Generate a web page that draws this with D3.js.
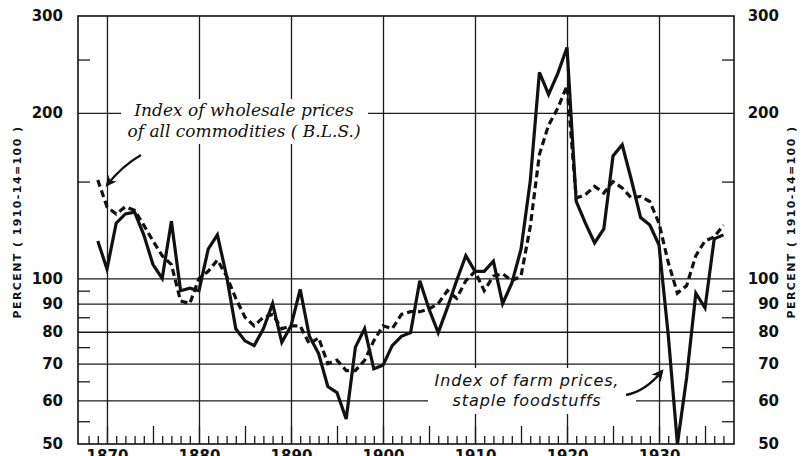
<!DOCTYPE html>
<html>
<head>
<meta charset="utf-8">
<script src="https://cdn.jsdelivr.net/npm/d3@7"></script>
<style>
  body { margin: 0; background: #fff; }
  svg { display: block; }
  .num-label text { font-family: 'DejaVu Sans', sans-serif; font-size: 15px; font-weight: bold; fill: #111; }
  .axis-title { font-family: 'DejaVu Sans', sans-serif; font-size: 11px; font-weight: bold; letter-spacing: 1.4px; fill: #111; }
  .note-serif { font-family: 'DejaVu Serif', serif; font-style: italic; font-size: 17px; fill: #111; }
  .note-sans { font-family: 'DejaVu Sans', sans-serif; font-style: oblique; font-size: 16px; letter-spacing: 0.9px; fill: #111; }
  .grid line { stroke: #1a1a1a; stroke-width: 1.3; }
</style>
</head>
<body>
<div id="chart"></div>
<script>
// annual index numbers, 1910-14 = 100
const years = d3.range(1869, 1938);

const farmPrices = [
    117, 104, 126, 131, 132, 120, 106, 100, 127, 95,
    96, 95, 113, 120, 101, 81, 77, 75.5, 81, 90,
    76.5, 82, 95.5, 78.5, 73, 63.6, 62, 55.5, 75, 81,
    68.5, 69.5, 75.5, 78.5, 79.7, 99, 88, 79.7, 88.5, 99,
    110, 103, 103, 107.5, 90, 98, 113, 150, 237, 216,
    236, 263, 138, 126, 116, 123, 167, 175, 151, 129,
    125, 115, 79, 50, 66, 94, 88.4, 118, 120
];

const wholesalePrices = [
    151, 135, 131, 135, 133, 125, 117, 110, 106, 91,
    90, 100, 103, 108, 101, 92, 85, 82, 85, 86,
    81, 82, 82, 76, 78, 70, 71, 68, 68, 71,
    77, 82, 81, 86, 87, 87, 88, 90, 95, 92,
    99, 103, 95, 101, 102, 99, 101, 124, 168, 190,
    204, 224, 140, 142, 147, 143, 150, 146, 140, 141,
    138, 126, 107, 94, 97, 110, 117, 119, 125
];

const yLabels = [300, 200, 100, 90, 80, 70, 60, 50];
const yGrid = [200, 100, 90, 80, 70, 60];
const yMinor = [250, 150, 95, 85, 75, 65, 55];
const decades = [1870, 1880, 1890, 1900, 1910, 1920, 1930];
const yearTicks = d3.range(1868, 1938);

const wholesaleNote = ['Index of wholesale prices', 'of all commodities ( B.L.S.)'];
const farmNote = ['Index of farm prices,', 'staple foodstuffs'];
const axisTitle = 'PERCENT ( 1910-14=100 )';

function PriceChart() {
    this.init();
}

PriceChart.prototype.init = function() {
    let vis = this;

    vis.svgWidth = 805;
    vis.svgHeight = 456;
    vis.left = 78;
    vis.right = 734;
    vis.top = 16;
    vis.bottom = 444;

    vis.svg = d3.select('#chart').append('svg')
        .attr('width', vis.svgWidth)
        .attr('height', vis.svgHeight);

    vis.x = d3.scaleLinear()
        .domain([1866.85, 1938.15])
        .range([vis.left, vis.right]);

    vis.y = d3.scaleLog()
        .domain([50, 300])
        .range([vis.bottom, vis.top]);
}

PriceChart.prototype.drawFrame = function() {
    let vis = this;
    let w = vis.right - vis.left;
    let h = vis.bottom - vis.top;

    // horizontal grid
    vis.svg.append('g')
        .attr('class', 'grid')
        .attr('transform', `translate(${vis.left},0)`)
        .call(d3.axisLeft(vis.y).tickValues(yGrid).tickSize(-w).tickFormat(''))
        .call(g => g.select('.domain').remove());

    // decade lines
    vis.svg.append('g')
        .attr('class', 'grid')
        .attr('transform', `translate(0,${vis.bottom})`)
        .call(d3.axisBottom(vis.x).tickValues(decades).tickSize(-h).tickFormat(''))
        .call(g => g.select('.domain').remove());

    // short marks on both sides
    [[vis.left, -12], [vis.right, 12]].forEach(([px, size]) => {
        vis.svg.append('g')
            .attr('class', 'grid')
            .attr('transform', `translate(${px},0)`)
            .call(d3.axisLeft(vis.y).tickValues(yMinor).tickSize(size).tickFormat(''))
            .call(g => g.select('.domain').remove());
    });

    // year ticks, longer on the fives
    vis.svg.append('g')
        .attr('class', 'grid')
        .attr('transform', `translate(0,${vis.bottom})`)
        .call(d3.axisBottom(vis.x).tickValues(yearTicks).tickSize(-8).tickFormat(''))
        .call(g => g.select('.domain').remove())
        .selectAll('.tick line')
        .attr('y2', d => d % 5 == 0 ? -18 : -8);

    vis.svg.append('rect')
        .attr('x', vis.left)
        .attr('y', vis.top)
        .attr('width', w)
        .attr('height', h)
        .attr('fill', 'none')
        .attr('stroke', '#111')
        .attr('stroke-width', 1.6);

    // number labels
    vis.svg.append('g')
        .attr('class', 'num-label')
        .attr('transform', `translate(${vis.left},0)`)
        .call(d3.axisLeft(vis.y).tickValues(yLabels).tickSize(0).tickPadding(15).tickFormat(d3.format('d')))
        .call(g => g.select('.domain').remove());

    vis.svg.append('g')
        .attr('class', 'num-label')
        .attr('transform', 'translate(779,0)')
        .call(d3.axisLeft(vis.y).tickValues(yLabels).tickSize(0).tickPadding(0).tickFormat(d3.format('d')))
        .call(g => g.select('.domain').remove());

    // year labels sit at the bottom edge, mostly cut off as in the print
    vis.svg.append('g')
        .attr('class', 'num-label')
        .attr('transform', `translate(0,${vis.bottom})`)
        .call(d3.axisBottom(vis.x).tickValues(decades).tickSize(0).tickPadding(6).tickFormat(d3.format('d')))
        .call(g => g.select('.domain').remove());

    [17, 791].forEach(cx => {
        vis.svg.append('text')
            .attr('class', 'axis-title')
            .attr('transform', `translate(${cx},222) rotate(-90)`)
            .attr('text-anchor', 'middle')
            .attr('dy', '0.35em')
            .text(axisTitle);
    });
}

PriceChart.prototype.drawNotes = function() {
    let vis = this;

    vis.svg.append('defs').append('marker')
        .attr('id', 'head')
        .attr('viewBox', '0 0 10 10')
        .attr('refX', 8)
        .attr('refY', 5)
        .attr('markerWidth', 5)
        .attr('markerHeight', 5)
        .attr('orient', 'auto')
        .append('path')
        .attr('d', 'M0,0 L10,5 L0,10 L3,5 Z')
        .attr('fill', '#111');

    // white patches so the grid breaks behind the notes
    vis.svg.append('rect')
        .attr('x', 121).attr('y', 99).attr('width', 247).attr('height', 45)
        .attr('fill', '#fff');
    vis.svg.append('rect')
        .attr('x', 428).attr('y', 368).attr('width', 208).attr('height', 46)
        .attr('fill', '#fff');

    vis.svg.selectAll('.w-note').data(wholesaleNote).enter()
        .append('text')
        .attr('class', 'note-serif w-note')
        .attr('x', 244)
        .attr('y', (d, i) => 116 + i * 21)
        .attr('text-anchor', 'middle')
        .text(d => d);

    vis.svg.selectAll('.f-note').data(farmNote).enter()
        .append('text')
        .attr('class', 'note-sans f-note')
        .attr('x', 527)
        .attr('y', (d, i) => 386 + i * 20)
        .attr('text-anchor', 'middle')
        .text(d => d);

    vis.svg.append('path')
        .attr('d', 'M141,155 Q122,166 107,185')
        .attr('fill', 'none')
        .attr('stroke', '#111')
        .attr('stroke-width', 2.2)
        .attr('marker-end', 'url(#head)');

    vis.svg.append('path')
        .attr('d', 'M626,395 Q646,391 662,371')
        .attr('fill', 'none')
        .attr('stroke', '#111')
        .attr('stroke-width', 2.4)
        .attr('marker-end', 'url(#head)');
}

PriceChart.prototype.update = function() {
    let vis = this;

    let line = d3.line()
        .x(d => vis.x(d.year))
        .y(d => vis.y(d.value));

    let wholesale = years.map((yr, i) => ({year: yr, value: wholesalePrices[i]}));
    let farm = years.map((yr, i) => ({year: yr, value: farmPrices[i]}));

    vis.svg.append('path')
        .datum(wholesale)
        .attr('d', line)
        .attr('fill', 'none')
        .attr('stroke', '#111')
        .attr('stroke-width', 3.2)
        .attr('stroke-dasharray', '7,4');

    vis.svg.append('path')
        .datum(farm)
        .attr('d', line)
        .attr('fill', 'none')
        .attr('stroke', '#111')
        .attr('stroke-width', 3.2)
        .attr('stroke-linejoin', 'miter');
}

let chart = new PriceChart();
chart.drawFrame();
chart.drawNotes();
chart.update();
</script>
</body>
</html>
